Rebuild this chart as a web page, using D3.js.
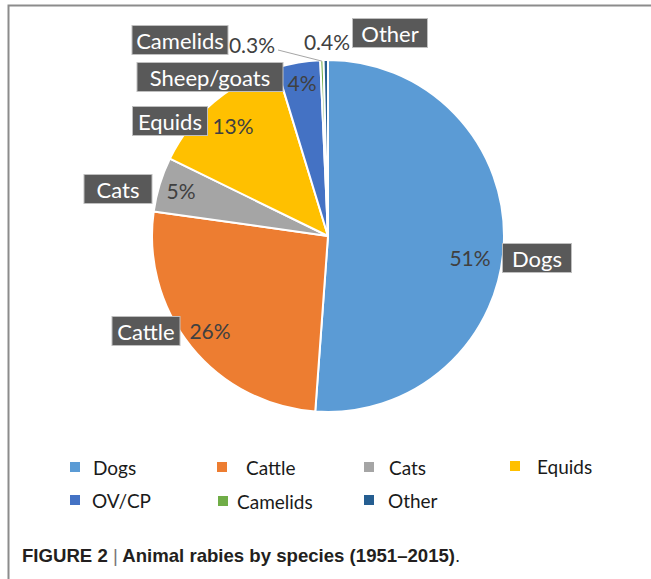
<!DOCTYPE html>
<html><head><meta charset="utf-8">
<script src="https://cdn.jsdelivr.net/npm/d3@7"></script>
<style>body{margin:0;background:#fff}svg{display:block}</style>
</head><body>
<svg id="chart" width="651" height="579"></svg>
<script>
// ---- data ----
const categories = ["Dogs","Cattle","Cats","Equids","Sheep/goats","Camelids","Other"];
const values = [51, 26, 5, 13, 4, 0.3, 0.4];
const pctLabels = ["51%","26%","5%","13%","4%","0.3%","0.4%"];
const legendNames = ["Dogs","Cattle","Cats","Equids","OV/CP","Camelids","Other"];
const colors = ["#5B9BD5","#ED7D31","#A5A5A5","#FFC000","#4472C4","#70AD47","#255E91"];

// ---- layout (styling, not data) ----
const cx = 328, cy = 236, R = 176;
const pctOffset = [[142,21],[-118,94],[-147,-46],[-95,-111],[-26,-154],[-76,-192],[-1,-195]];
const boxOffset = [[209,22],[-182,95],[-210,-47],[-158,-115],[-118,-159],[-148,-196],[62,-203]];
const boxWidth = [69,68,68,75,146,96,75];
const legendPos = [[70,467],[217,467],[364,467],[510,466],[70,500],[218,501],[364,500]];
const legendTextX = [93,246,389,537,92,237,388];

const svg = d3.select("#chart");

// frame
svg.append("path").attr("d","M8.5,579 L8.5,5.5 L651,5.5")
  .attr("fill","none").attr("stroke","#8c8c8c").attr("stroke-width",2);

const data = categories.map((c,i)=>({name:c, value:values[i], pct:pctLabels[i], color:colors[i], i}));
const pie = d3.pie().value(d=>d.value).sort(null);
const arc = d3.arc().innerRadius(0).outerRadius(R);
const arcs = pie(data);

const g = svg.append("g").attr("transform",`translate(${cx},${cy})`);
g.selectAll("path.slice").data(arcs).join("path")
  .attr("class","slice")
  .attr("d",arc)
  .attr("fill",d=>d.data.color)
  .attr("stroke","#fff").attr("stroke-width",2).attr("stroke-linejoin","round");

// leader line for Camelids
const cam = arcs[5];
const edge = d3.arc().innerRadius(R).outerRadius(R).centroid(cam);
g.append("line")
  .attr("x1",pctOffset[5][0]+26).attr("y1",pctOffset[5][1]+6)
  .attr("x2",edge[0]).attr("y2",edge[1]+1)
  .attr("stroke","#a6a6a6").attr("stroke-width",1);

const labelFont = "Lato, 'Open Sans', sans-serif";
// percent labels
g.selectAll("text.pct").data(arcs).join("text")
  .attr("class","pct")
  .attr("x",d=>pctOffset[d.data.i][0])
  .attr("y",d=>pctOffset[d.data.i][1])
  .attr("text-anchor","middle").attr("dominant-baseline","central")
  .attr("font-family",labelFont).attr("font-size",21)
  .attr("fill","#404040")
  .text(d=>d.data.pct);

// category boxes
arcs.forEach(d=>{
  const [bx,by] = boxOffset[d.data.i];
  const w = boxWidth[d.data.i];
  const lg = g.append("g").attr("transform",`translate(${bx},${by})`);
  lg.append("rect").attr("x",-w/2).attr("y",-14.5).attr("width",w).attr("height",29)
    .attr("fill","#595959").attr("stroke","#bfbfbf").attr("stroke-width",1);
  lg.append("text")
    .attr("text-anchor","middle").attr("dominant-baseline","central")
    .attr("font-family",labelFont).attr("font-size",22)
    .attr("fill","#fff").text(d.data.name);
});

// legend
const leg = svg.append("g");
legendNames.forEach((n,i)=>{
  const [x,y] = legendPos[i];
  leg.append("rect").attr("x",x).attr("y",y-5).attr("width",10).attr("height",10).attr("fill",colors[i]);
  leg.append("text").attr("x",legendTextX[i]).attr("y",y)
    .attr("dominant-baseline","central")
    .attr("font-family",labelFont).attr("font-size",19).attr("fill","#1a1a1a").text(n);
});

// caption
const cap = svg.append("text").attr("x",22).attr("y",562)
  .attr("font-family","'Liberation Sans Narrow','Arial Narrow','Liberation Sans',sans-serif")
  .attr("font-size",18.6).attr("fill","#231f20");
cap.append("tspan").attr("font-weight","bold").text("FIGURE 2 ");
cap.append("tspan").attr("font-weight","normal").attr("fill","#777").text("|");
cap.append("tspan").attr("font-weight","bold").text(" Animal rabies by species (1951–2015)");
cap.append("tspan").attr("font-weight","normal").text(".");
</script>
</body></html>
